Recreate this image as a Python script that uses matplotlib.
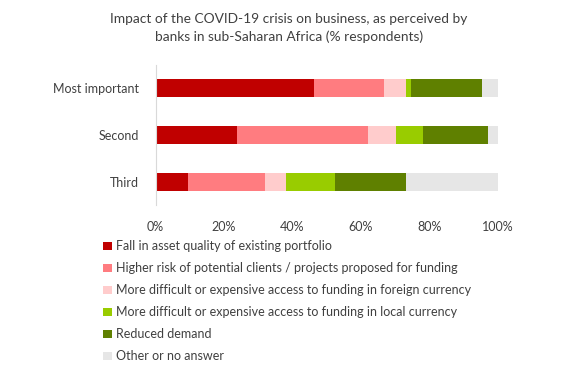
import matplotlib
matplotlib.use('Agg')
import matplotlib.pyplot as plt
import numpy as np

plt.rcParams['font.family'] = ['Lato', 'DejaVu Sans']

categories = ['Most important', 'Second', 'Third']
series = ['Fall in asset quality of existing portfolio',
          'Higher risk of potential clients / projects proposed for funding',
          'More difficult or expensive access to funding in foreign currency',
          'More difficult or expensive access to funding in local currency',
          'Reduced demand',
          'Other or no answer']
values = {
    series[0]: [46.2, 23.8, 9.6],
    series[1]: [20.6, 38.2, 22.4],
    series[2]: [6.2, 8.1, 6.0],
    series[3]: [1.6, 7.9, 14.4],
    series[4]: [20.7, 19.1, 20.7],
    series[5]: [4.7, 2.9, 26.9],
}
colors = ['#C00000', '#FF7C80', '#FFCCCC', '#99CC00', '#5F8000', '#E6E6E6']

fig = plt.figure(figsize=(5.83, 3.80), dpi=100)
ax = fig.add_axes([155.5/583, 1-205.5/380, (498-155.5)/583, 141/380])

ypos = [2, 1, 0]
left = np.zeros(3)
for s, c in zip(series, colors):
    v = np.array(values[s])
    ax.barh(ypos, v, left=left, height=0.38, color=c, label=s)
    left += v

ax.set_xlim(0, 100)
ax.set_ylim(-0.5, 2.5)
ax.set_yticks(ypos)
ax.set_yticklabels(categories)
ax.set_xticks(range(0, 101, 20))
ax.set_xticklabels([f'{x}%' for x in range(0, 101, 20)])
for sp in ['top', 'right', 'bottom']:
    ax.spines[sp].set_visible(False)
ax.spines['left'].set_color('#D9D9D9')
ax.tick_params(axis='both', length=0, labelsize=9, colors='#404040')
ax.tick_params(axis='x', pad=11)
ax.tick_params(axis='y', pad=12)

fig.text(289/583, 1-28/380, 'Impact of the COVID-19 crisis on business, as perceived by\nbanks in sub-Saharan Africa (% respondents)',
         ha='center', va='center', fontsize=9.9, color='#404040', linespacing=1.55)

fig.legend(loc='upper left', bbox_to_anchor=(92/583, 1-229/380), frameon=False,
           fontsize=9, handlelength=0.7, handleheight=0.7, handletextpad=0.3,
           labelspacing=0.8, labelcolor='#404040')

fig.savefig('out.png', dpi=100)
